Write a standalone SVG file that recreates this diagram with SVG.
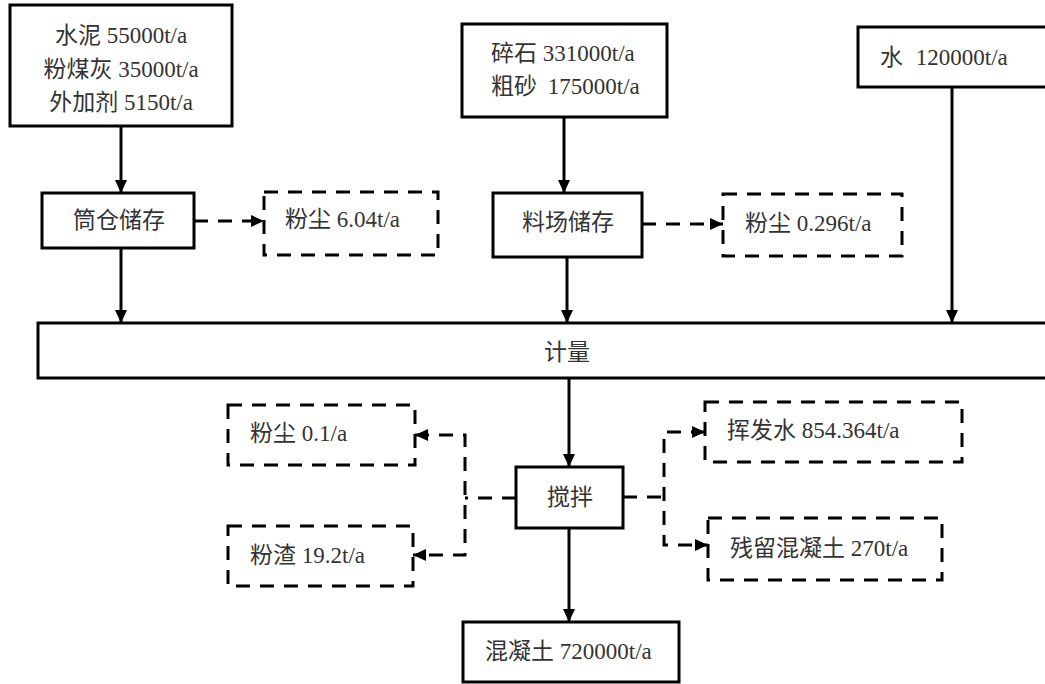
<svg xmlns="http://www.w3.org/2000/svg" width="1045" height="684" viewBox="0 0 1045 684">
<style>
.box{fill:#fff;stroke:#000;stroke-width:3}
.dbox{fill:#fff;stroke:#000;stroke-width:3;stroke-dasharray:14 10}
.ln{fill:none;stroke:#000;stroke-width:3}
.dln{fill:none;stroke:#000;stroke-width:3;stroke-dasharray:14 10}
text{font-family:"Liberation Serif","Noto Sans CJK SC",serif;font-size:23px;fill:#333}
.c{text-anchor:middle}
</style>
<defs>
<marker id="ah" markerUnits="userSpaceOnUse" markerWidth="13" markerHeight="12" refX="13" refY="6" orient="auto-start-reverse">
<path d="M0,0 L13,6 L0,12 z" fill="#000"/>
</marker>
</defs>
<rect width="1045" height="684" fill="#fff"/>
<g id="connectors">
<path class="ln" d="M121,126 V193" marker-end="url(#ah)"/>
<path class="ln" d="M121,248 V323" marker-end="url(#ah)"/>
<path class="dln" d="M194,221 H264" marker-end="url(#ah)"/>
<path class="ln" d="M564,117 V193" marker-end="url(#ah)"/>
<path class="ln" d="M567,257 V323" marker-end="url(#ah)"/>
<path class="dln" d="M642,224 H723" marker-end="url(#ah)"/>
<path class="ln" d="M952,87 V323" marker-end="url(#ah)"/>
<path class="ln" d="M569,378 V467" marker-end="url(#ah)"/>
<path class="ln" d="M569,528 V622" marker-end="url(#ah)"/>
<path class="dln" d="M516,498 H465"/>
<path class="dln" d="M415,435 H465 V555 H413" marker-start="url(#ah)" marker-end="url(#ah)"/>
<path class="dln" d="M623,497 H664"/>
<path class="dln" d="M705,432 H664 V545 H708" marker-start="url(#ah)" marker-end="url(#ah)"/>
</g>
<g id="raw1">
<rect class="box" x="10" y="5" width="222" height="121"/>
<text class="c" x="121" y="43">水泥 55000t/a</text>
<text class="c" x="121" y="77">粉煤灰 35000t/a</text>
<text class="c" x="121" y="110">外加剂 5150t/a</text>
</g>
<g id="silo">
<rect class="box" x="42" y="193" width="152" height="55"/>
<text class="c" x="119" y="228">筒仓储存</text>
</g>
<g id="dust1">
<rect class="dbox" x="264" y="192" width="174" height="63"/>
<text x="285" y="227">粉尘 6.04t/a</text>
</g>
<g id="raw2">
<rect class="box" x="462" y="24" width="205" height="93"/>
<text x="491" y="61">碎石 331000t/a</text>
<text x="491" y="94">粗砂 <tspan dx="5">175000t/a</tspan></text>
</g>
<g id="yard">
<rect class="box" x="493" y="193" width="149" height="64"/>
<text class="c" x="568" y="230">料场储存</text>
</g>
<g id="dust2">
<rect class="dbox" x="723" y="194" width="179" height="62"/>
<text x="745" y="231">粉尘 0.296t/a</text>
</g>
<g id="water">
<rect class="box" x="858" y="27" width="200" height="60"/>
<text x="880" y="65">水 <tspan dx="7">120000t/a</tspan></text>
</g>
<g id="meter">
<rect class="box" x="38" y="323" width="1020" height="55"/>
<text class="c" x="567" y="360">计量</text>
</g>
<g id="mix">
<rect class="box" x="516" y="467" width="107" height="61"/>
<text class="c" x="570" y="505">搅拌</text>
</g>
<g id="dust3">
<rect class="dbox" x="228" y="405" width="187" height="60"/>
<text x="250" y="441">粉尘 0.1/a</text>
</g>
<g id="slag">
<rect class="dbox" x="228" y="526" width="185" height="60"/>
<text x="250" y="563">粉渣 19.2t/a</text>
</g>
<g id="evap">
<rect class="dbox" x="705" y="402" width="257" height="60"/>
<text x="727" y="438">挥发水 854.364t/a</text>
</g>
<g id="residue">
<rect class="dbox" x="708" y="518" width="234" height="62"/>
<text x="730" y="556">残留混凝土 270t/a</text>
</g>
<g id="concrete">
<rect class="box" x="463" y="622" width="216" height="60"/>
<text x="485" y="659">混凝土 720000t/a</text>
</g>
</svg>
